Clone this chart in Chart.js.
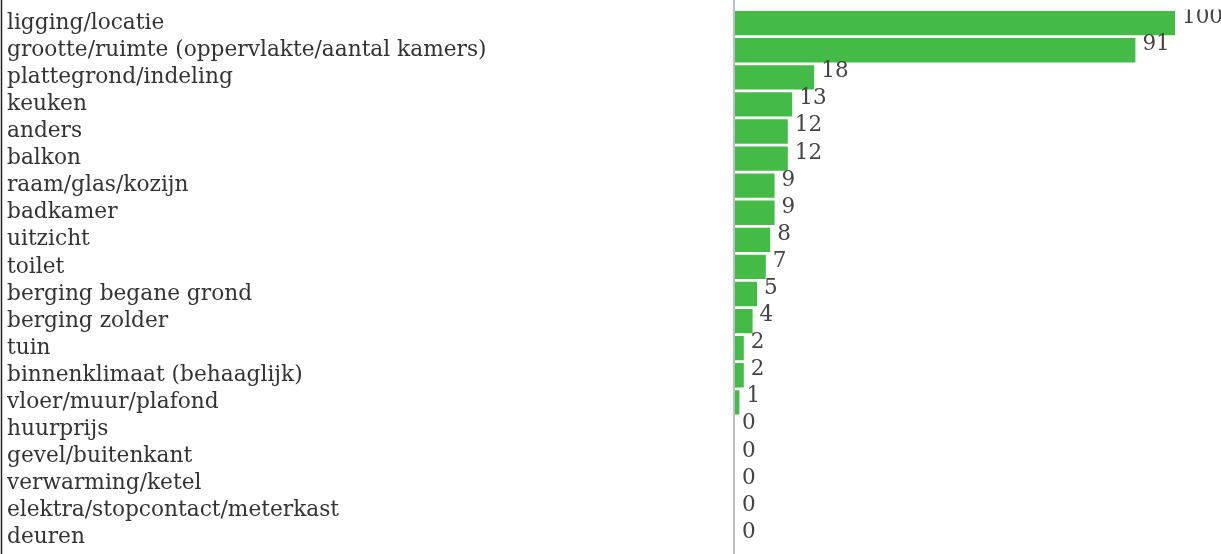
<!DOCTYPE html>
<html>
<head>
<meta charset="utf-8">
<script src="https://cdn.jsdelivr.net/npm/chart.js@4/dist/chart.umd.min.js"></script>
<style>
    html, body { margin: 0; padding: 0; background: #fff; overflow: hidden; }
    #wrap { position: relative; width: 1221px; height: 560px; }
</style>
</head>
<body>
<div id="wrap"><canvas id="barChart"></canvas></div>
<script>
/* Horizontal bar chart: kenmerken van de woning */

const categories = [
    'ligging/locatie',
    'grootte/ruimte (oppervlakte/aantal kamers)',
    'plattegrond/indeling',
    'keuken',
    'anders',
    'balkon',
    'raam/glas/kozijn',
    'badkamer',
    'uitzicht',
    'toilet',
    'berging begane grond',
    'berging zolder',
    'tuin',
    'binnenklimaat (behaaglijk)',
    'vloer/muur/plafond',
    'huurprijs',
    'gevel/buitenkant',
    'verwarming/ketel',
    'elektra/stopcontact/meterkast',
    'deuren'
];
const counts = [100, 91, 18, 13, 12, 12, 9, 9, 8, 7, 5, 4, 2, 2, 1, 0, 0, 0, 0, 0];
const xMin = 0;
const xMax = 100;

const FONT = "'DejaVu Serif', serif";

// value labels at the end of each bar + the two vertical lines
const barExtras = {
    id: 'barExtras',
    afterDatasetsDraw(chart) {
        const ctx = chart.ctx;
        const area = chart.chartArea;
        const meta = chart.getDatasetMeta(0);
        ctx.save();
        ctx.beginPath();
        ctx.rect(0, area.top, chart.width, area.bottom - area.top);
        ctx.clip();
        ctx.font = '21.5px ' + FONT;
        ctx.fillStyle = '#444';
        ctx.textAlign = 'left';
        ctx.textBaseline = 'alphabetic';
        meta.data.forEach((bar, i) => {
            ctx.fillText(String(counts[i]), bar.x + 7, bar.y);
        });
        ctx.restore();

        // zero line across the whole height
        const x0 = chart.scales.x.getPixelForValue(0);
        ctx.save();
        ctx.strokeStyle = '#bcbcc6';
        ctx.lineWidth = 2;
        ctx.beginPath();
        ctx.moveTo(x0 - 1, 0);
        ctx.lineTo(x0 - 1, chart.height);
        ctx.stroke();

        // left border
        ctx.strokeStyle = '#222';
        ctx.lineWidth = 1.5;
        ctx.beginPath();
        ctx.moveTo(1.5, 0);
        ctx.lineTo(1.5, chart.height);
        ctx.stroke();
        ctx.restore();
    }
};

function initBarChart() {
    const ctx = document.getElementById('barChart');
    new Chart(ctx, {
        type: 'bar',
        data: {
            labels: categories,
            datasets: [{
                data: counts,
                backgroundColor: '#44bb46',
                borderWidth: 0,
                barPercentage: 0.9,
                categoryPercentage: 1.0
            }]
        },
        options: {
            indexAxis: 'y',
            responsive: true,
            maintainAspectRatio: false,
            animation: false,
            layout: {
                padding: { left: 7, right: 46, top: 9.6, bottom: 3.2 }
            },
            plugins: {
                legend: { display: false },
                tooltip: { enabled: false }
            },
            scales: {
                x: {
                    display: false,
                    min: xMin,
                    max: xMax
                },
                y: {
                    afterFit: function(scale) {
                        scale.width = 728;
                    },
                    grid: { display: false, drawTicks: false },
                    border: { display: false },
                    ticks: {
                        crossAlign: 'far',
                        autoSkip: false,
                        padding: 0,
                        color: '#333',
                        font: { family: FONT, size: 21.7, lineHeight: 0.8 }
                    }
                }
            }
        },
        plugins: [barExtras]
    });
}

initBarChart();
</script>
</body>
</html>
